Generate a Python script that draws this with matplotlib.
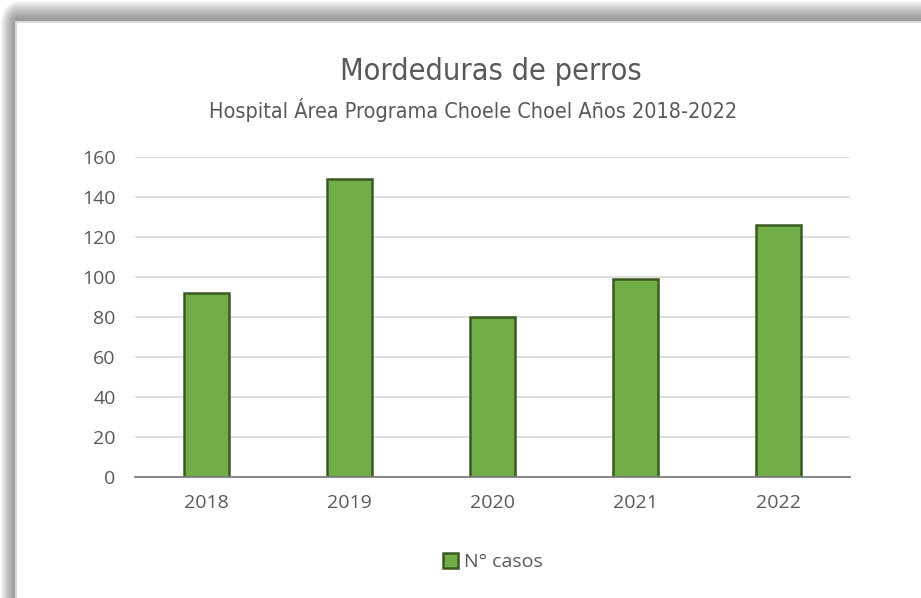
import numpy as np
import matplotlib
matplotlib.use("Agg")
import matplotlib.pyplot as plt

# Data
years = ["2018", "2019", "2020", "2021", "2022"]
casos = [92, 149, 80, 99, 126]
yticks = [0, 20, 40, 60, 80, 100, 120, 140, 160]

title = "Mordeduras de perros"
subtitle = "Hospital Área Programa Choele Choel Años 2018-2022"
series_name = "N° casos"

W, H = 921, 598
fig = plt.figure(figsize=(W / 100, H / 100), dpi=100)
fig.patch.set_facecolor("white")

# Background with soft shadow along top and left edges
bg = fig.add_axes([0, 0, 1, 1])
yy, xx = np.mgrid[0:H, 0:W]
bx, by = 17, 23
dx = np.clip(bx - xx, 0, None) / 17.0
dy = np.clip(by - yy, 0, None) / 23.0
d = np.sqrt(dx ** 2 + dy ** 2)
shade = np.where(d > 0, np.clip(0.58 + 0.42 * d ** 1.5, 0, 1), 1.0)
rim = ((xx >= bx - 2) & (xx < bx) & (yy >= by - 2)) | ((yy >= by - 2) & (yy < by) & (xx >= bx - 2))
shade = np.where(rim, 0.85, shade)
bg.imshow(shade, cmap="gray", vmin=0, vmax=1, aspect="auto", interpolation="nearest")
bg.set_axis_off()

ax = fig.add_axes([135 / W, (H - 477) / H, (850 - 135) / W, (477 - 157) / H])
x = np.arange(len(years))
ax.bar(x, casos, width=0.32, color="#70AD47", edgecolor="#3A5A22", linewidth=1.8,
       label=series_name, zorder=3)
ax.set_xlim(-0.5, len(years) - 0.5)
ax.set_ylim(0, 160)
ax.set_yticks(yticks)
ax.set_xticks(x)
ax.set_xticklabels(years)
ax.grid(axis="y", color="#D9D9D9", linewidth=1.2, zorder=0)
for s in ["top", "right", "left"]:
    ax.spines[s].set_visible(False)
ax.spines["bottom"].set_color("#7F7F7F")
ax.spines["bottom"].set_linewidth(1.3)
ax.spines["bottom"].set_zorder(4)
ax.tick_params(axis="both", length=0, labelsize=14, labelcolor="#595959")
ax.tick_params(axis="x", pad=12)
ax.tick_params(axis="y", pad=14)
for lab in ax.get_xticklabels() + ax.get_yticklabels():
    lab.set_fontfamily("Open Sans")
ax.set_facecolor("none")

fig.text(491 / W, 1 - 72 / H, title, ha="center", va="center", fontsize=22,
         color="#595959", family="DejaVu Sans", stretch="condensed", weight="medium")
fig.text(473 / W, 1 - 110 / H, subtitle, ha="center", va="center", fontsize=15.5,
         color="#595959", family="DejaVu Sans", stretch="condensed")

leg = fig.legend(loc="center", bbox_to_anchor=(493 / W, 1 - 562 / H), frameon=False,
                 prop={"family": "Open Sans", "size": 14}, handlelength=0.8,
                 handleheight=0.8, handletextpad=0.3)
for t in leg.get_texts():
    t.set_color("#595959")

fig.savefig("out.png", dpi=100)
